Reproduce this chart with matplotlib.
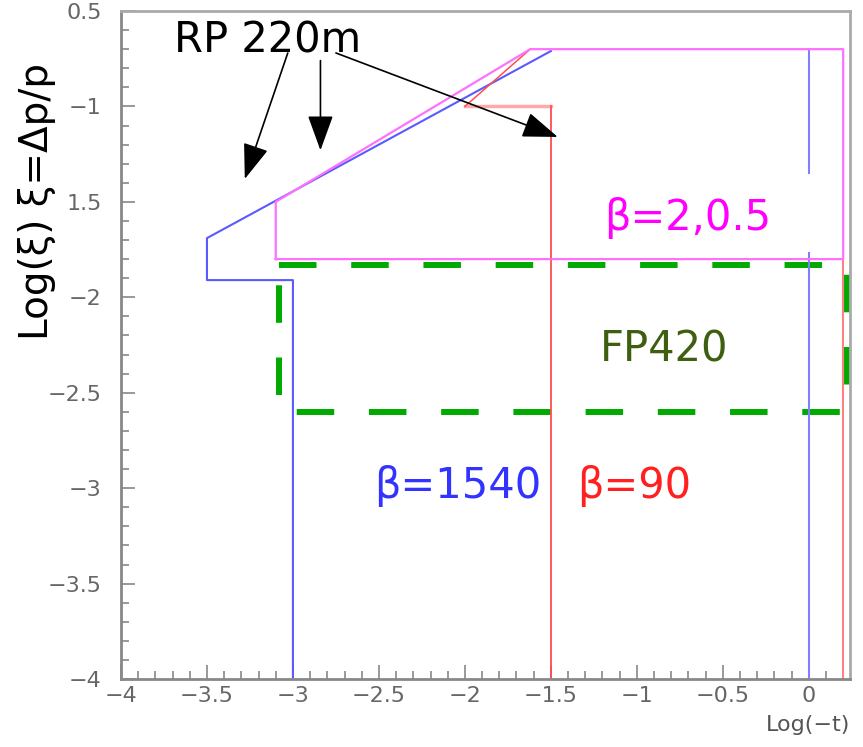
import matplotlib
matplotlib.use('Agg')
import matplotlib.pyplot as plt
from matplotlib.ticker import MultipleLocator

plt.rcParams['font.family'] = ['DejaVu Sans']
plt.rcParams['lines.scale_dashes'] = False

# acceptance regions in (log(-t), log(xi))
# beta = 1540 (RP 220m)
b1540_x = [-3.0, -3.0, -3.5, -3.5, -1.5]
b1540_y = [-4.0, -1.91, -1.91, -1.69, -0.71]
b1540_x0_top = [-0.71, -1.35]
b1540_x0_bot = [-1.77, -4.0]
# beta = 2, 0.5
b2_x = [-3.1, 0.2, 0.2, -1.62, -3.1, -3.1]
b2_y = [-1.8, -1.8, -0.7, -0.7, -1.5, -1.8]
# beta = 90
b90_x = [-1.5, -1.5]
b90_y = [-4.0, -1.0]
b90_step_x = [-2.0, -1.5]
b90_step_y = [-1.0, -1.0]
b90_diag_x = [-2.0, -1.62]
b90_diag_y = [-1.0, -0.7]
b90_right_x = [0.2, 0.2]
b90_right_y = [-1.8, -4.0]
# FP420
fp_x = [-3.08, 0.22, 0.22, -3.08, -3.08]
fp_y = [-1.83, -1.83, -2.6, -2.6, -1.83]

# arrows from the "RP 220m" label
arrow_tails = [(-3.03, -0.72), (-2.84, -0.76), (-2.75, -0.72)]
arrow_tips = [(-3.28, -1.38), (-2.84, -1.23), (-1.46, -1.16)]

ytick_vals = [-4, -3.5, -3, -2.5, -2, -1.5, -1, -0.5]
ytick_labels = ['\u22124', '\u22123.5', '\u22123', '\u22122.5', '\u22122', '1.5', '\u22121', '0.5']
xtick_vals = [-4, -3.5, -3, -2.5, -2, -1.5, -1, -0.5, 0]
xtick_labels = ['\u22124', '\u22123.5', '\u22123', '\u22122.5', '\u22122', '\u22121.5', '\u22121', '\u22120.5', '0']

fig = plt.figure(figsize=(8.63, 7.47), dpi=100)
ax = fig.add_axes([0.1402, 0.091, 0.8448, 0.8943])

ax.plot(fp_x, fp_y, color='#00aa00', lw=4.3, dashes=(27, 25))
ax.plot(b1540_x, b1540_y, color='#5a5aff', lw=1.5)
ax.plot([0, 0], b1540_x0_top, color='#8080ff', lw=1.5)
ax.plot([0, 0], b1540_x0_bot, color='#8080ff', lw=1.5)
ax.plot(b90_step_x, b90_step_y, color='#ffaaaa', lw=2.5)
ax.plot(b90_x, b90_y, color='#ff4d4d', lw=1.3)
ax.plot(b90_diag_x, b90_diag_y, color='#ff5050', lw=1.1)
ax.plot(b90_right_x, b90_right_y, color='#ff8080', lw=1.5)
ax.plot(b2_x, b2_y, color='#ff70ff', lw=1.6)

for (tx, ty), (hx, hy) in zip(arrow_tails, arrow_tips):
    ax.annotate('', xy=(hx, hy), xytext=(tx, ty),
                arrowprops=dict(arrowstyle='-|>,head_length=1.1,head_width=0.4',
                                color='black', lw=1.2,
                                mutation_scale=20, shrinkA=0, shrinkB=0))

ax.text(-3.69, -0.72, 'RP 220m', fontsize=30, color='black', va='baseline', ha='left')
ax.text(-1.19, -1.646, '\u03b2=2,0.5', fontsize=30, color='#ff00ff', va='baseline', ha='left')
ax.text(-1.215, -2.339, 'FP420', fontsize=30, color='#3f5f10', va='baseline', ha='left')
ax.text(-2.53, -3.052, '\u03b2=1540', fontsize=30, color='#3333ff', va='baseline', ha='left')
ax.text(-1.35, -3.052, '\u03b2=90', fontsize=30, color='#ff2020', va='baseline', ha='left')

ax.set_xlim(-4, 0.24)
ax.set_ylim(-4, -0.5)

ax.set_xticks(xtick_vals)
ax.set_xticklabels(xtick_labels)
ax.set_yticks(ytick_vals)
ax.set_yticklabels(ytick_labels)
ax.xaxis.set_minor_locator(MultipleLocator(0.1))
ax.yaxis.set_minor_locator(MultipleLocator(0.1))
ax.tick_params(which='both', direction='in', color='#888888', width=1.2,
               top=False, right=False, labelcolor='#666666', labelsize=16)
ax.tick_params(which='major', length=10)
ax.tick_params(which='minor', length=6)
ax.tick_params(axis='y', pad=14)
ax.tick_params(axis='x', pad=5)

for s in ['left', 'bottom']:
    ax.spines[s].set_color('#888888')
    ax.spines[s].set_linewidth(2)
for s in ['top', 'right']:
    ax.spines[s].set_color('#aaaaaa')
    ax.spines[s].set_linewidth(2)

fig.text(0.043, 0.73, 'Log(\u03be) \u03be=\u0394p/p', rotation=90, fontsize=28,
         color='black', ha='center', va='center')
fig.text(0.985, 0.03, 'Log(\u2212t)', fontsize=16, color='#555555', ha='right', va='center')

fig.savefig('out.png', dpi=100)
